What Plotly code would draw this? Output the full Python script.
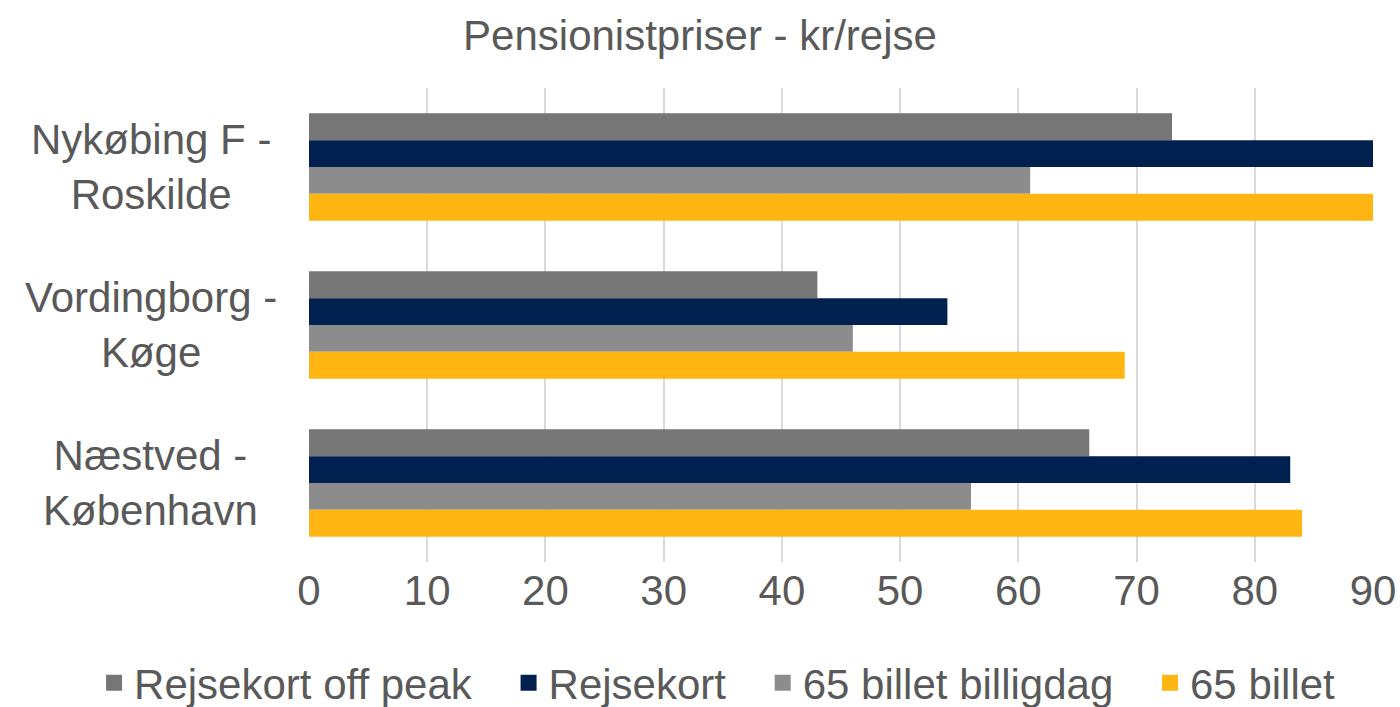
import plotly.graph_objects as go

categories = ["Nykøbing F -<br>Roskilde", "Vordingborg -<br>Køge", "Næstved -<br>København"]
series_names = ["Rejsekort off peak", "Rejsekort", "65 billet billigdag", "65 billet"]
rejsekort_off_peak = [73, 43, 66]
rejsekort = [90, 54, 83]
billet65_billigdag = [61, 46, 56]
billet65 = [90, 69, 84]
colors = ["#767676", "#002050", "#8C8C8C", "#FFB612"]
x_ticks = [0, 10, 20, 30, 40, 50, 60, 70, 80, 90]

values = [rejsekort_off_peak, rejsekort, billet65_billigdag, billet65]
text_color = "#595959"
font_family = "Liberation Sans, Arial, sans-serif"

W, H = 1400, 707

fig = go.Figure()
for name, vals, col in zip(series_names, values, colors):
    fig.add_trace(go.Bar(
        y=categories, x=vals, name=name, orientation="h",
        marker=dict(color=col, line=dict(width=0)), showlegend=False,
    ))
# legend entries with larger square symbols (extra trailing space for item spacing)
for i, (name, col) in enumerate(zip(series_names, colors)):
    pad = "\u00a0\u00a0\u2009" if i < len(series_names) - 1 else ""
    fig.add_trace(go.Scatter(
        x=[None], y=[None], mode="markers", name=name + pad,
        marker=dict(symbol="square", size=22, color=col), showlegend=True,
    ))

for cat in categories:
    fig.add_annotation(
        x=-0.1485, xref="paper", y=cat, yref="y", text=cat, showarrow=False,
        xanchor="center", yanchor="middle", align="center",
        font=dict(size=42, color=text_color, family=font_family),
    )

fig.update_layout(
    width=W, height=H,
    barmode="group", bargap=0.32, bargroupgap=0,
    paper_bgcolor="white", plot_bgcolor="white",
    margin=dict(l=309, r=27, t=88, b=145, autoexpand=False),
    font=dict(family=font_family, size=42, color=text_color),
    title=dict(text="Pensionistpriser - kr/rejse", x=0.5, xanchor="center",
               y=1 - 35 / H, yanchor="middle", font=dict(size=42, color=text_color)),
    legend=dict(orientation="h", x=-0.202, xanchor="left", xref="paper",
                y=-0.255, yanchor="middle", yref="paper", traceorder="normal",
                font=dict(size=42, color=text_color), itemwidth=30,
                bgcolor="rgba(0,0,0,0)"),
    showlegend=True,
)
fig.update_xaxes(range=[0, 90], tickvals=x_ticks, showgrid=True, gridcolor="#D9D9D9",
                 gridwidth=1.5, zeroline=False, showline=False, ticks="",
                 tickfont=dict(size=42, color=text_color))
fig.update_yaxes(autorange="reversed", showticklabels=False, showgrid=False,
                 zeroline=False, showline=False, ticks="")

fig.write_html("out.html", config={"displayModeBar": False},
               post_script="document.body.style.margin='0';")
